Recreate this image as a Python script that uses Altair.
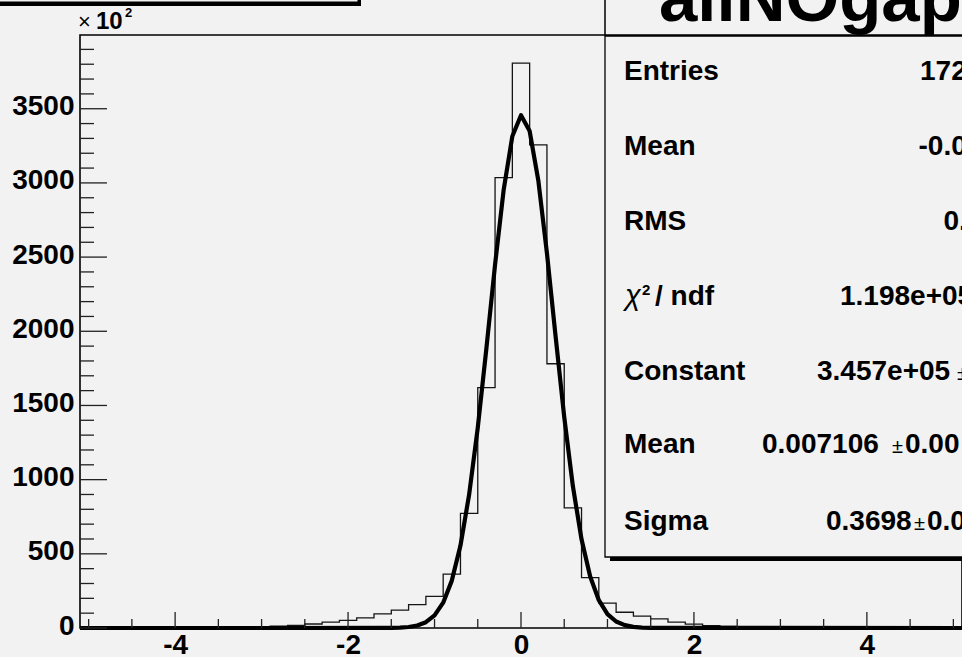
import altair as alt
import pandas as pd

# ---------------- data ----------------
bin_low = -5.1
bin_width = 0.2
counts = [0, 0, 0, 0, 0, 0,
          1, 2, 3, 5, 8, 12, 18, 27, 39, 52, 68, 95, 120, 158, 213, 363, 772, 1620, 3035,
          3807,
          3257, 1781, 810, 339, 168, 106, 80, 61, 40, 26, 16, 10, 6, 4, 3, 2, 1, 1, 0,
          0, 0, 0, 0, 0, 0]

fit_x = [-5.1, -1.6, -1.5, -1.4, -1.3, -1.2, -1.1, -1.0, -0.9, -0.8, -0.7, -0.6, -0.5,
         -0.4, -0.3, -0.2, -0.1, 0.0, 0.1, 0.2, 0.3, 0.4, 0.5, 0.6, 0.7, 0.8, 0.9, 1.0,
         1.1, 1.2, 1.3, 1.4, 1.5, 1.6, 5.1]
fit_y = [0.0, 0.2, 0.9, 2.5, 6.7, 16.8, 39.1, 84.8, 170.7, 319.4, 555.6, 898.3, 1350.1,
         1885.9, 2448.6, 2955.3, 3315.0, 3456.4, 3349.7, 3017.3, 2526.3, 1965.9, 1422.1,
         956.1, 597.6, 347.1, 187.4, 94.0, 43.9, 19.0, 7.7, 2.9, 1.0, 0.3, 0.0]

x_labels = [-4, -2, 0, 2, 4]
x_minor = [-5, -4.5, -3.5, -3, -2.5, -1.5, -1, -0.5, 0.5, 1, 1.5, 2.5, 3, 3.5, 4.5, 5]
y_labels = [0, 500, 1000, 1500, 2000, 2500, 3000, 3500]
y_minor = [v for v in range(100, 4000, 100) if v % 500 != 0]

title_text = "allNOgaps"
stat_labels = ["Entries", "Mean", "RMS", "Constant", "Mean", "Sigma"]
stat_values = ["172", "-0.0", "0.4", "3.457e+05", "0.007106", "0.3698"]
stat_errors = ["", "", "", "", "0.00", "0.0"]
chi_value = "1.198e+05"

# ---------------- layout ----------------
W, H = 882, 593
FONT = "Liberation Sans"
BG = "#f2f2f2"

xs = alt.Scale(domain=[-5.1, 5.1], nice=False, zero=False)
ys = alt.Scale(domain=[0, 3997], nice=False, zero=False)

x_axis = alt.Axis(values=x_labels, ticks=False, tickSize=0, domain=False, grid=False,
                  labelFont=FONT, labelFontSize=28, labelFontWeight="bold",
                  labelColor="black", labelPadding=3, labelFlush=False,
                  labelExpr="datum.value < 0 ? '-' + abs(datum.value) : '' + datum.value",
                  title=None)
y_axis = alt.Axis(values=y_labels, ticks=False, tickSize=0, domain=False, grid=False,
                  labelFont=FONT, labelFontSize=28, labelFontWeight="bold",
                  labelColor="black", labelPadding=6, labelOffset=-2,
                  labelExpr="'' + datum.value", title=None)


def X(f="x"):
    return alt.X(f + ":Q", scale=xs, axis=x_axis, title=None)


def Y(f="y"):
    return alt.Y(f + ":Q", scale=ys, axis=y_axis, title=None)


hist_df = pd.DataFrame({
    "x": [bin_low + i * bin_width for i in range(len(counts))] + [bin_low + len(counts) * bin_width],
    "y": counts + [counts[-1]],
})
fit_df = pd.DataFrame({"x": fit_x, "y": fit_y})

hist = alt.Chart(hist_df).mark_line(interpolate="step-after", color="#151515",
                                    strokeWidth=1.3).encode(x=X(), y=Y())
fit = alt.Chart(fit_df).mark_line(color="black", strokeWidth=4.2,
                                  strokeJoin="round").encode(x=X(), y=Y())

ymaj = alt.Chart(pd.DataFrame({"y": y_labels})).mark_rule(color="#222", strokeWidth=1.3).encode(
    y=Y(), x=alt.value(0), x2=alt.value(27))
ymin = alt.Chart(pd.DataFrame({"y": y_minor})).mark_rule(color="#222", strokeWidth=1.3).encode(
    y=Y(), x=alt.value(0), x2=alt.value(14))
xmaj = alt.Chart(pd.DataFrame({"x": x_labels})).mark_rule(color="#222", strokeWidth=1.3).encode(
    x=X(), y=alt.value(H), y2=alt.value(H - 16))
xmin = alt.Chart(pd.DataFrame({"x": x_minor})).mark_rule(color="#222", strokeWidth=1.3).encode(
    x=X(), y=alt.value(H), y2=alt.value(H - 9))

one = alt.Data(values=[{"k": 0}])


def box(x1, x2, y1, y2, fill, stroke=None, sw=1.3):
    kw = dict(fill=fill)
    if stroke:
        kw.update(stroke=stroke, strokeWidth=sw)
    return alt.Chart(one).mark_rect(**kw).encode(
        x=alt.value(x1), x2=alt.value(x2), y=alt.value(y1), y2=alt.value(y2))


def txt(s, x, y, size=28, weight="bold", style="normal"):
    return alt.Chart(one).mark_text(text=s, font=FONT, fontSize=size, fontWeight=weight,
                                    fontStyle=style, align="left", baseline="alphabetic",
                                    color="black").encode(x=alt.value(x), y=alt.value(y))


layers = [hist, fit, ymaj, ymin, xmaj, xmin]

# top-left title box (cut off) with shadow
layers += [box(-90, 281, -60, -29, "black"), box(-90, 278, -60, -33, BG, "black", 1)]
# stats box shadow, stats box, title box
layers += [box(530, 920, 0, 526, "black"),
           box(525, 915, 1, 522, BG, "black", 1.3),
           box(525, 915, -60, 0, BG, "black", 1.5)]

# x10^2 multiplier
layers += [txt("\u00d7", -2, -6, 22, "normal"), txt("10", 16, -6, 24), txt("2", 45, -18, 13)]
# histogram title
layers += [txt(title_text, 579, -14, 69)]

# stats rows
row_y = [45, 120, 194.5, 344.5, 418, 495]
val_x = [840, 838.5, 863.5, 737, 682, 746]
pm_x = [None, None, None, 877, 812, 834]
err_x = [None, None, None, None, 825, 847]
for i, lab in enumerate(stat_labels):
    layers.append(txt(lab, 544, row_y[i]))
    layers.append(txt(stat_values[i], val_x[i], row_y[i]))
    if pm_x[i] is not None:
        layers.append(txt("\u00b1", pm_x[i], row_y[i], 20, "normal"))
    if err_x[i] is not None:
        layers.append(txt(stat_errors[i], err_x[i], row_y[i]))

# chi2 / ndf row
layers += [txt("\u03c7", 545, 269.5, 29, "normal", "italic"),
           txt("2", 562, 260, 15),
           txt("/ ndf", 575, 269.5),
           txt(chi_value, 760, 269.5)]

chart = alt.layer(*layers).properties(
    width=W, height=H,
    padding={"left": 80, "top": 35, "right": 0, "bottom": 29},
    autosize=alt.AutoSizeParams(type="none"),
    background=BG,
).configure_view(stroke="black", strokeWidth=1.6, fill=BG)

chart.save("out.html", embed_options={"renderer": "svg", "actions": False})
